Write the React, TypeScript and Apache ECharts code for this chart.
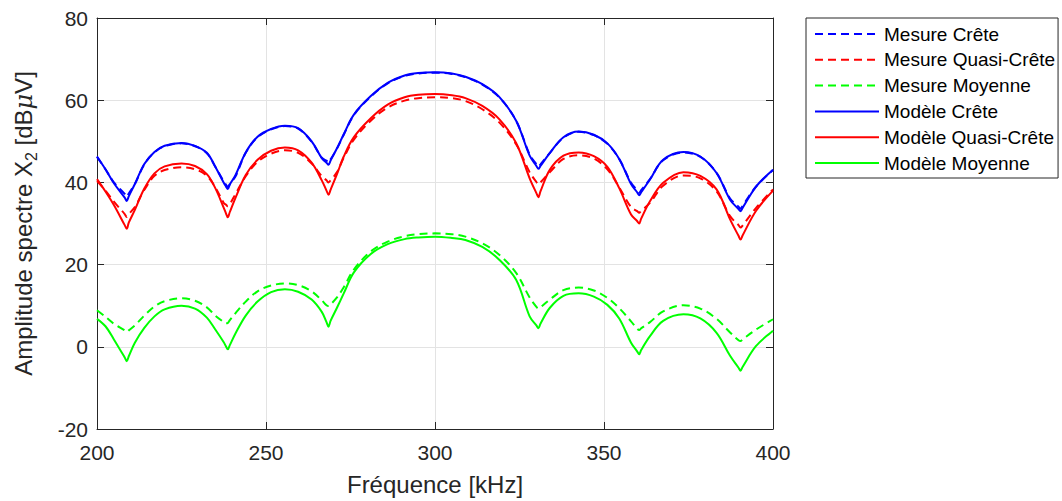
import React, { useEffect, useRef } from "react";
import * as echarts from "echarts";

const freq = [200, 202.5, 205, 208.2, 208.8, 209.4, 211.2, 214, 217, 220, 225, 229, 232.5, 235, 237.5, 238.1, 238.7, 239.3, 241, 244, 247.5, 251.5, 255.6, 259.5, 263.5, 266.5, 267.9, 268.5, 269.1, 271, 273, 276, 281, 286, 291, 295, 300, 305, 309, 314, 319, 324, 328, 330.0, 330.6, 331.2, 334, 338, 342.5, 347, 351, 354.5, 358, 359.8, 360.4, 361.0, 363.6, 367.5, 373.5, 378.5, 383.3, 387.3, 389.8, 390.4, 391.0, 395, 400];

const mesureCrete = [46.2, 43.2, 40.0, 37.2, 36.5, 37.3, 39.6, 44.4, 47.3, 48.8, 49.5, 48.8, 47.1, 43.8, 40.2, 39.5, 38.9, 39.6, 41.5, 47.2, 51.0, 52.9, 53.7, 53.1, 49.9, 46.0, 45.3, 44.8, 45.6, 48.2, 51.6, 56.4, 60.9, 64.1, 65.9, 66.5, 66.7, 66.4, 65.6, 63.8, 60.7, 55.0, 46.8, 44.4, 43.8, 44.4, 47.2, 50.9, 52.3, 51.5, 49.4, 45.7, 39.9, 38.1, 37.5, 38.1, 40.8, 45.4, 47.3, 46.2, 42.3, 36.1, 34.1, 33.6, 34.3, 39.0, 43.0];
const mesureQuasiCrete = [40.3, 38.0, 35.3, 32.3, 31.6, 32.3, 34.0, 38.2, 41.6, 43.0, 43.7, 43.2, 41.6, 38.8, 35.0, 34.6, 34.2, 34.7, 37.2, 41.5, 45.0, 47.0, 47.8, 47.2, 44.6, 41.5, 40.5, 40.0, 40.5, 42.5, 46.0, 50.4, 55.0, 58.2, 59.9, 60.5, 60.7, 60.5, 59.8, 57.8, 54.6, 49.3, 42.5, 40.1, 39.5, 40.0, 42.5, 45.7, 46.6, 45.8, 43.2, 38.8, 34.0, 33.0, 32.6, 33.1, 35.0, 39.2, 41.7, 41.0, 37.8, 31.8, 29.6, 29.0, 29.5, 33.8, 38.3];
const mesureMoyenne = [8.9, 7.3, 5.6, 4.0, 3.6, 4.0, 5.2, 7.6, 9.8, 11.1, 11.8, 11.2, 9.6, 7.6, 6.0, 5.7, 5.8, 6.5, 8.2, 11.0, 13.5, 14.9, 15.4, 15.0, 13.5, 11.3, 10.1, 9.9, 10.3, 12.0, 14.5, 18.8, 23.2, 25.6, 26.9, 27.4, 27.6, 27.4, 26.8, 25.2, 22.4, 18.0, 12.0, 9.7, 9.3, 9.6, 11.5, 13.8, 14.4, 13.7, 11.9, 9.4, 6.2, 4.4, 4.1, 4.5, 6.0, 8.6, 10.1, 9.3, 6.8, 3.5, 1.6, 1.4, 1.8, 4.2, 6.7];
const modeleCrete = [46.3, 43.2, 39.8, 36.3, 35.5, 36.6, 39.6, 44.5, 47.4, 48.9, 49.6, 48.9, 47.2, 43.8, 39.9, 39.1, 38.4, 39.5, 41.8, 47.3, 51.1, 53.0, 53.8, 53.2, 50.0, 45.9, 44.8, 44.3, 45.3, 48.3, 51.7, 56.5, 61.0, 64.2, 66.0, 66.6, 66.8, 66.5, 65.7, 63.9, 60.8, 55.0, 46.5, 44.0, 43.3, 44.0, 47.2, 51.0, 52.4, 51.6, 49.5, 45.7, 39.6, 37.6, 36.9, 37.6, 40.7, 45.5, 47.4, 46.3, 42.3, 35.8, 33.5, 33.0, 33.8, 39.0, 43.1];
const modeleQuasiCrete = [40.8, 37.8, 34.5, 29.6, 28.7, 30.2, 33.3, 38.5, 42.2, 43.9, 44.6, 44.0, 42.0, 38.6, 33.8, 32.6, 31.5, 32.8, 36.3, 41.8, 45.5, 47.7, 48.5, 47.8, 44.8, 40.5, 38.0, 37.0, 38.2, 42.0, 46.3, 51.0, 55.6, 58.9, 60.7, 61.3, 61.5, 61.2, 60.5, 58.6, 55.4, 49.6, 41.0, 37.4, 36.4, 37.8, 43.1, 46.5, 47.3, 46.4, 43.8, 38.6, 32.2, 30.6, 30.0, 31.2, 35.4, 39.9, 42.5, 41.6, 38.3, 31.0, 27.0, 26.1, 27.1, 33.1, 38.0];
const modeleMoyenne = [6.8, 5.0, 1.8, -2.6, -3.5, -2.3, 1.0, 4.6, 7.4, 9.1, 10.0, 9.3, 7.1, 4.2, 1.1, 0.2, -0.6, 0.4, 3.3, 7.6, 11.0, 13.3, 14.0, 13.4, 11.5, 8.5, 6.0, 4.9, 6.3, 9.5, 13.0, 18.1, 22.6, 25.0, 26.2, 26.6, 26.8, 26.5, 26.0, 24.3, 21.2, 16.3, 7.4, 5.2, 4.5, 5.6, 9.5, 12.4, 13.0, 12.2, 10.2, 6.9, 1.0, -1.1, -1.8, -0.8, 2.6, 6.3, 7.9, 6.9, 3.4, -2.2, -5.1, -5.8, -4.9, 0.2, 3.9];

const seriesNames = ["Mesure Crête", "Mesure Quasi-Crête", "Mesure Moyenne", "Modèle Crête", "Modèle Quasi-Crête", "Modèle Moyenne"];
const seriesValues = [mesureCrete, mesureQuasiCrete, mesureMoyenne, modeleCrete, modeleQuasiCrete, modeleMoyenne];
const seriesColors = ["#0000ff", "#ff0000", "#00ff00", "#0000ff", "#ff0000", "#00ff00"];
const seriesDashed = [true, true, true, false, false, false];

const FONT = "'Liberation Sans', Arial, Helvetica, sans-serif";
const AX = "#262626";

export default function App() {
  const ref = useRef<HTMLDivElement>(null);
  useEffect(() => {
    if (!ref.current) return;
    const chart = echarts.init(ref.current, null, { renderer: "svg" });
    const axisCommon = {
      type: "value",
      axisLine: { show: true, onZero: false, lineStyle: { color: AX, width: 1 } },
      axisTick: { show: true, inside: true, length: 7, lineStyle: { color: AX } },
      minorTick: { show: false },
    };
    const option: any = {
      animation: false,
      backgroundColor: "#ffffff",
      textStyle: { fontFamily: FONT },
      grid: { left: 97, top: 18, right: 289, bottom: 71, containLabel: false },
      legend: {
        orient: "vertical",
        left: 806,
        top: 18,
        padding: [6, 3, 5, 8],
        itemWidth: 64,
        itemHeight: 20,
        itemGap: 5.8,
        borderColor: AX,
        borderWidth: 1,
        backgroundColor: "#ffffff",
        itemStyle: { opacity: 0 },
        textStyle: { fontSize: 19, color: "#000000", fontFamily: FONT, lineHeight: 20 },
        data: seriesNames,
      },
      xAxis: [
        {
          ...axisCommon,
          position: "bottom",
          min: 200,
          max: 400,
          interval: 50,
          name: "Fréquence [kHz]",
          nameLocation: "middle",
          nameGap: 43,
          nameTextStyle: { fontSize: 24, color: AX, fontFamily: FONT },
          axisLabel: { fontSize: 21, color: AX, margin: 13, fontFamily: FONT },
          splitLine: { show: true, lineStyle: { color: "#e3e3e3", width: 1 } },
        },
        {
          ...axisCommon,
          position: "top",
          min: 200,
          max: 400,
          interval: 50,
          axisLabel: { show: false },
          splitLine: { show: false },
        },
      ],
      yAxis: [
        {
          ...axisCommon,
          position: "left",
          min: -20,
          max: 80,
          interval: 20,
          name: "{a|Amplitude spectre X}{s|2}{a| [dB}{m|μ}{a|V]}",
          nameLocation: "middle",
          nameGap: 58,
          nameRotate: 90,
          nameTextStyle: {
            fontSize: 24,
            color: AX,
            fontFamily: FONT,
            rich: {
              a: { fontSize: 24, color: AX, fontFamily: FONT, lineHeight: 31, verticalAlign: "middle" },
              s: { fontSize: 16, color: AX, fontFamily: FONT, lineHeight: 16, verticalAlign: "bottom" },
              m: { fontSize: 24, color: AX, fontFamily: "'DejaVu Serif', 'Liberation Serif', serif", fontStyle: "italic", lineHeight: 31, verticalAlign: "middle" },
            },
          },
          axisLabel: { fontSize: 21, color: AX, margin: 9, fontFamily: FONT },
          splitLine: { show: true, lineStyle: { color: "#e3e3e3", width: 1 } },
        },
        {
          ...axisCommon,
          position: "right",
          min: -20,
          max: 80,
          interval: 20,
          axisLabel: { show: false },
          splitLine: { show: false },
        },
      ],
      series: seriesNames.map((name, i) => ({
        name,
        type: "line",
        xAxisIndex: 0,
        yAxisIndex: 0,
        symbol: "none",
        showSymbol: false,
        smooth: 0.35,
        clip: true,
        color: seriesColors[i],
        lineStyle: {
          color: seriesColors[i],
          width: 2,
          type: seriesDashed[i] ? [8, 5] : "solid",
        },
        data: freq.map((f, k) => [f, seriesValues[i][k]]),
      })),
    };
    chart.setOption(option);
    return () => chart.dispose();
  }, []);
  return (
    <div
      ref={ref}
      style={{ position: "absolute", left: 0, top: 0, width: 1062, height: 501, background: "#fff" }}
    />
  );
}
